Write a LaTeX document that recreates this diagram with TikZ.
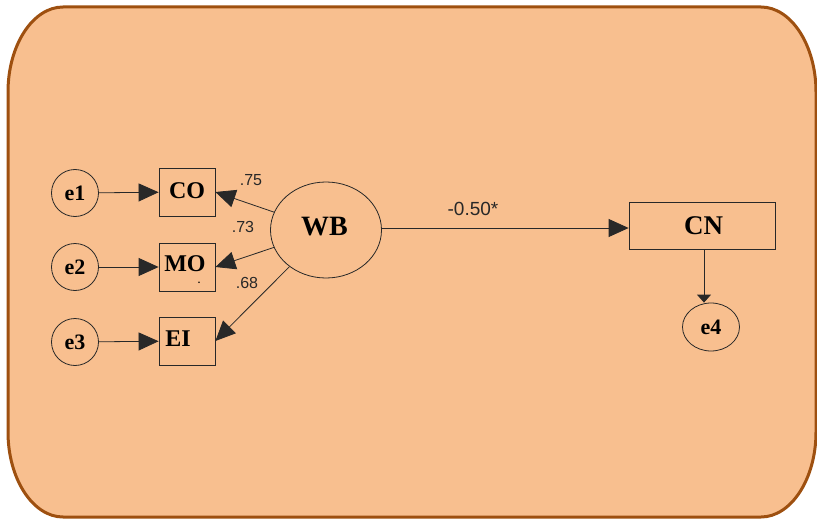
\documentclass[tikz,border=0pt]{standalone}
\usepackage{fontspec}
\setmainfont{Liberation Serif}
\newfontfamily\arialf{Liberation Sans}
\usetikzlibrary{arrows.meta,shapes.geometric}
\definecolor{bgfill}{RGB}{248,191,143}
\definecolor{border}{RGB}{158,80,16}
\definecolor{ink}{RGB}{40,40,40}
\tikzset{
  errc/.style={circle,draw=ink,line width=0.8pt,minimum size=47pt,inner sep=0pt,font=\bfseries\fontsize{22}{22}\selectfont},
  obsbox/.style={rectangle,draw=ink,line width=0.8pt,minimum width=56pt,minimum height=48pt,inner sep=0pt,font=\bfseries\fontsize{24}{24}\selectfont},
  coef/.style={font=\arialf\fontsize{16}{16}\selectfont,text=ink,inner sep=0pt},
  bigarrow/.style={draw=ink,line width=0.8pt,-{Triangle[length=20pt,width=18pt]}},
}
\begin{document}
\begin{tikzpicture}[x=1pt,y=-1pt]
\useasboundingbox (0,0) rectangle (817,519);
\draw[fill=bgfill,draw=border,line width=3pt]
  (8,92) .. controls (8,45) and (33,7) .. (63,7) -- (761,7)
  .. controls (791,7) and (816,45) .. (816,92) -- (816,432)
  .. controls (816,479) and (791,517) .. (761,517) -- (63,517)
  .. controls (33,517) and (8,479) .. (8,432) -- cycle;
% error terms
\node[errc] (e1) at (75,193) {e1};
\node[errc] (e2) at (75,267) {e2};
\node[errc] (e3) at (75,342) {e3};
% observed
\node[obsbox] (CO) at (187,192) {\raisebox{3pt}{CO}};
\node[obsbox] (MO) at (187,267) {\raisebox{7pt}{\kern-4pt MO}};
\node[obsbox] (EI) at (187,341) {\raisebox{4pt}{\kern-18pt EI}};
\node[font=\bfseries\fontsize{10}{10}\selectfont,inner sep=0pt] (dot) at (199,283) {.};
% latent
\node[ellipse,draw=ink,line width=0.8pt,minimum width=111pt,minimum height=96pt,inner sep=0pt,font=\bfseries\fontsize{28}{28}\selectfont] (WB) at (326,230) {\raisebox{7pt}{\kern-3pt WB}};
\node[rectangle,draw=ink,line width=0.8pt,minimum width=146pt,minimum height=47pt,inner sep=0pt,font=\bfseries\fontsize{27}{27}\selectfont] (CN) at (702,225.5) {\raisebox{-5pt}{\kern3pt CN}};
\node[ellipse,draw=ink,line width=0.8pt,minimum width=57pt,minimum height=48pt,inner sep=0pt,font=\bfseries\fontsize{22}{22}\selectfont] (e4) at (711,327) {e4};
\coordinate (hline) at (0,228);
\coordinate (vline) at (704,0);
% arrows
\draw[bigarrow] (e1) -- (CO);
\draw[bigarrow] (e2) -- (MO);
\draw[bigarrow] (e3) -- (EI);
\draw[bigarrow] (WB) -- (CO.east);
\draw[bigarrow] (WB) -- (MO.east);
\draw[bigarrow] (WB) -- (EI.east);
\draw[bigarrow] (WB.east |- hline) -- (CN.west |- hline);
\draw[draw=ink,line width=0.8pt,-{Triangle[length=8pt,width=14pt]}] (vline |- CN.south) -- (vline |- e4.north);
% coefficients
\node[coef] (l75) at (251,180) {.75};
\node[coef] (l73) at (243,227) {.73};
\node[coef] (l68) at (247,283) {.68};
\node[coef,font=\arialf\fontsize{19}{19}\selectfont] (l50) at (473,209) {-0.50*};
\end{tikzpicture}
\end{document}
